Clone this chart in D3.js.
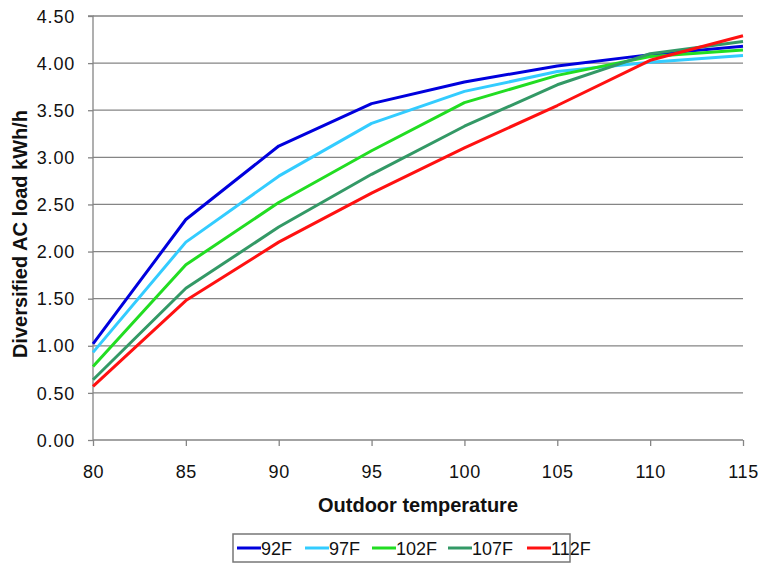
<!DOCTYPE html>
<html><head><meta charset="utf-8">
<script src="https://cdn.jsdelivr.net/npm/d3@7"></script>
<style>body{margin:0;background:#fff}svg{display:block}</style>
</head><body>
<svg id="c" width="761" height="563"></svg>
<script>
const temps = [80, 85, 90, 95, 100, 105, 110, 115];
const seriesNames = ["92F", "97F", "102F", "107F", "112F"];
const seriesColors = ["#0000dd", "#33ccff", "#22dd22", "#339966", "#ff1111"];
const s92F  = [1.02, 2.34, 3.12, 3.57, 3.80, 3.97, 4.09, 4.18];
const s97F  = [0.93, 2.10, 2.80, 3.36, 3.70, 3.91, 4.01, 4.08];
const s102F = [0.78, 1.86, 2.52, 3.07, 3.58, 3.87, 4.07, 4.14];
const s107F = [0.64, 1.61, 2.26, 2.82, 3.33, 3.77, 4.10, 4.23];
const s112F = [0.57, 1.48, 2.10, 2.62, 3.10, 3.55, 4.03, 4.29];
const seriesValues = [s92F, s97F, s102F, s107F, s112F];
const yTicks = [0, 0.5, 1, 1.5, 2, 2.5, 3, 3.5, 4, 4.5];
const xTicks = [80, 85, 90, 95, 100, 105, 110, 115];

const svg = d3.select("#c");
const L = 93, R = 743, T = 16, B = 440;
const x = d3.scaleLinear().domain([80, 115]).range([L, R]);
const y = d3.scaleLinear().domain([0, 4.5]).range([B, T]);
const font = "Arial, 'Liberation Sans', sans-serif";
const grid = "#858585";

// gridlines
svg.append("g").selectAll("line").data(yTicks.filter(d => d > 0)).join("line")
  .attr("x1", L).attr("x2", R).attr("y1", d => y(d)).attr("y2", d => y(d))
  .attr("stroke", grid).attr("stroke-width", 1.3);

// y axis
const ya = svg.append("g").attr("transform", `translate(${L},0)`)
  .call(d3.axisLeft(y).tickValues(yTicks).tickFormat(d3.format(".2f")).tickSize(5).tickPadding(13));
ya.select(".domain").attr("stroke", grid).attr("stroke-width", 1.3).attr("d", `M-5,${T}H0V${B}`);
ya.selectAll(".tick line").attr("stroke", grid).attr("stroke-width", 1.3);
ya.selectAll("text").attr("font-family", font).attr("font-size", 18).attr("letter-spacing", 0.8)
  .attr("fill", "#111").attr("dy", "0.34em");

// x axis
const xa = svg.append("g").attr("transform", `translate(0,${B})`)
  .call(d3.axisBottom(x).tickValues(xTicks).tickSize(6).tickPadding(19));
xa.select(".domain").attr("stroke", grid).attr("stroke-width", 1.3).attr("d", `M${L},0H${R}`);
xa.selectAll(".tick line").attr("stroke", grid).attr("stroke-width", 1.3);
xa.selectAll("text").attr("font-family", font).attr("font-size", 18).attr("letter-spacing", 0.6)
  .attr("fill", "#111");

// lines
const line = d3.line().x((d, i) => x(temps[i])).y(d => y(d));
svg.append("g").selectAll("path").data(seriesValues).join("path")
  .attr("d", line).attr("fill", "none")
  .attr("stroke", (d, i) => seriesColors[i]).attr("stroke-width", 3)
  .attr("stroke-linejoin", "round");

// axis titles
svg.append("text").attr("x", 418).attr("y", 512).attr("text-anchor", "middle")
  .attr("font-family", font).attr("font-weight", "bold").attr("font-size", 20)
  .attr("fill", "#111").text("Outdoor temperature");
svg.append("text").attr("transform", `translate(27,234) rotate(-90)`)
  .attr("text-anchor", "middle").attr("font-family", font).attr("font-weight", "bold")
  .attr("font-size", 20).attr("fill", "#111").text("Diversified AC load kWh/h");

// legend
const lg = svg.append("g");
lg.append("rect").attr("x", 233).attr("y", 534).attr("width", 337).attr("height", 28)
  .attr("fill", "#fff").attr("stroke", "#777").attr("stroke-width", 1.5);
const offs = [237, 305, 372, 448, 527];
seriesNames.forEach((n, i) => {
  const g = lg.append("g").attr("transform", `translate(${offs[i]},548)`);
  g.append("line").attr("x1", 0).attr("x2", 24).attr("stroke", seriesColors[i]).attr("stroke-width", 3);
  g.append("text").attr("x", 24).attr("y", 7).attr("font-family", font).attr("font-size", 18)
    .attr("fill", "#111").text(n);
});
</script>
</body></html>
